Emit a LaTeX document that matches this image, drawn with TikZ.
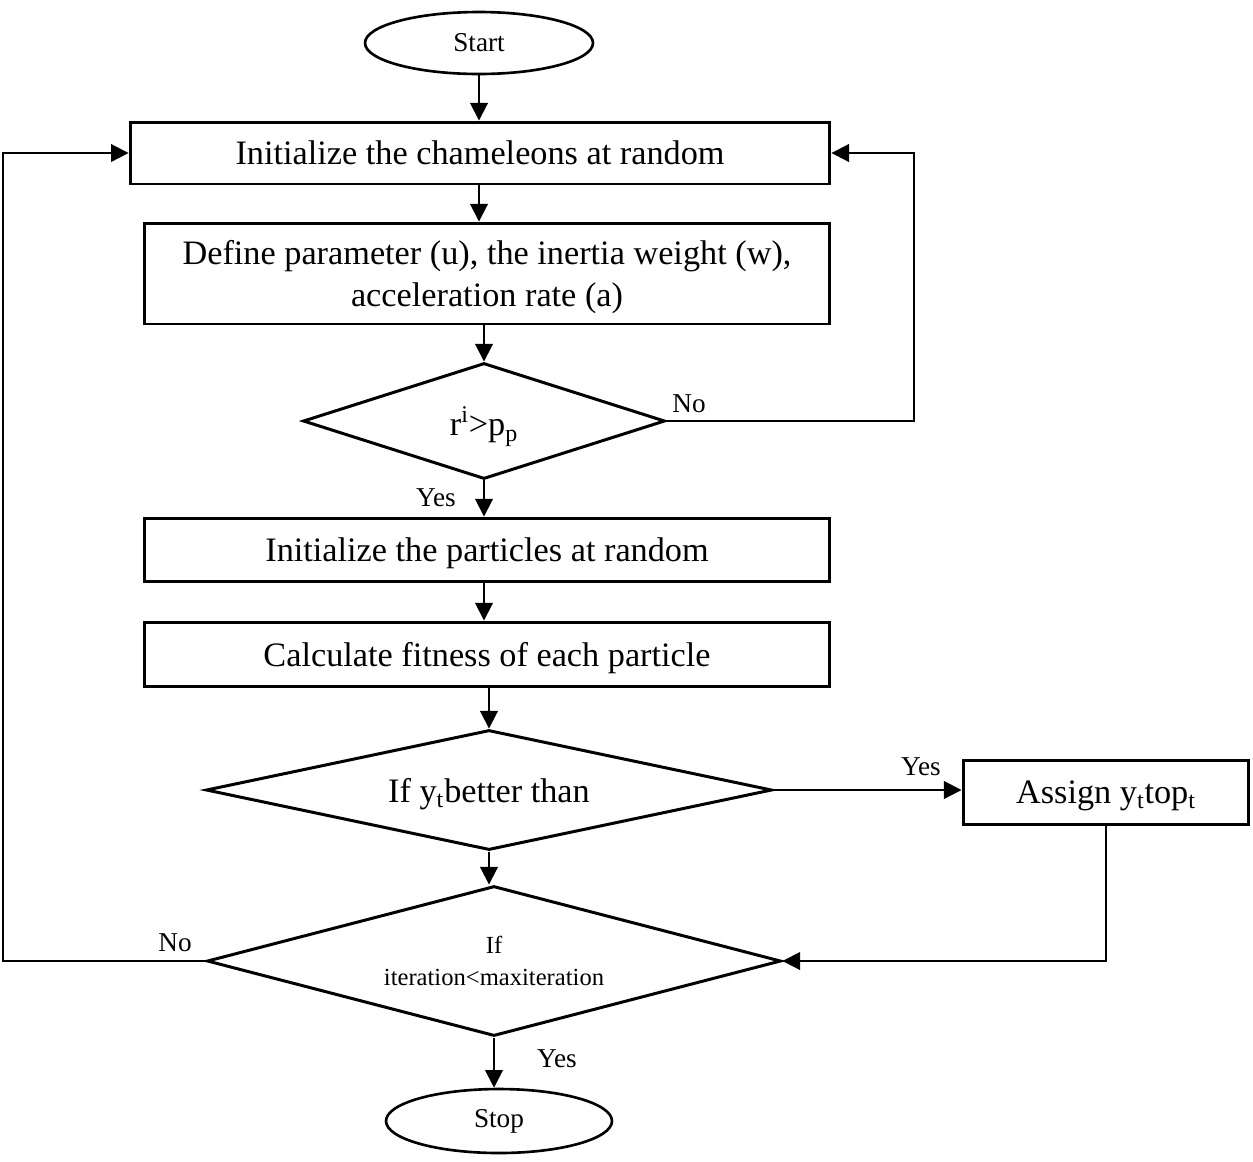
\documentclass[tikz,border=0pt]{standalone}
\usepackage{fontspec}
\setmainfont{Liberation Serif}
\usetikzlibrary{shapes.geometric,arrows.meta}
\begin{document}
\begin{tikzpicture}[x=0.02cm,y=-0.02cm,
  box/.style={draw,line width=1.7pt,rectangle,inner sep=0pt,text depth=0pt,font=\fontsize{19.5}{23.8}\selectfont,align=center},
  dia/.style={draw,line width=1.7pt,diamond,inner sep=0pt,text depth=0pt,font=\fontsize{19.5}{23.8}\selectfont,align=center},
  oval/.style={draw,line width=1.5pt,ellipse,inner sep=0pt,font=\fontsize{15.5}{18}\selectfont},
  conn/.style={line width=1.1pt,-{Triangle[length=10pt,width=10pt]}},
  lab/.style={font=\fontsize{15.5}{18}\selectfont,inner sep=0pt}]
\useasboundingbox (0,0) rectangle (1253,1161);

\node[oval,minimum width=4.56cm,minimum height=1.24cm] (start) at (479,43) {Start};
\node[box,minimum width=14cm,minimum height=1.24cm] (box1) at (480,153) {Initialize the chameleons at random};
\node[box,minimum width=13.72cm,minimum height=2.02cm] (box2) at (487,273.5) {Define parameter (u), the inertia weight (w),\\acceleration rate (a)};
\node[dia,aspect=3.1,minimum width=7.24cm,minimum height=2.32cm] (dia1) at (484,421) {r\textsuperscript{i}>p\textsubscript{p}};
\node[box,minimum width=13.72cm,minimum height=1.26cm] (box3) at (487,549.5) {Initialize the particles at random};
\node[box,minimum width=13.72cm,minimum height=1.28cm] (box4) at (487,654) {Calculate fitness of each particle};
\node[dia,aspect=4.7,minimum width=11.32cm,minimum height=2.4cm] (dia2) at (489,790) {If y\textsubscript{t}better than};
\node[box,minimum width=5.72cm,minimum height=1.28cm] (box5) at (1106,792) {Assign y\textsubscript{t}top\textsubscript{t}};
\node[dia,aspect=3.8,minimum width=11.48cm,minimum height=3cm,font=\fontsize{14}{18}\selectfont] (dia3) at (494,961) {If\\iteration<maxiteration};
\node[oval,minimum width=4.52cm,minimum height=1.28cm] (stop) at (499,1121) {Stop};

\coordinate (lft) at (3,0);
\coordinate (rgt) at (914,0);

\draw[conn] (start.south) -- (start.south |- box1.north);
\draw[conn] (box1.south -| start) -- (box2.north -| start);
\draw[conn] (box2.south -| dia1) -- (dia1.north);
\draw[conn] (dia1.south) -- (box3.north -| dia1);
\draw[conn] (box3.south -| dia1) -- (box4.north -| dia1);
\draw[conn] (box4.south -| dia2) -- (dia2.north);
\draw[conn] (dia2.south) -- (dia2.south |- dia3.north);
\draw[conn] (dia3.south) -- (dia3.south |- stop.north);
\draw[conn] (dia1.east) -- (dia1.east -| rgt) |- (box1.east);
\draw[conn] (dia2.east) -- (dia2.east -| box5.west);
\draw[conn] (box5.south) |- (dia3.east);
\draw[conn] (dia3.west) -- (dia3.west -| lft) |- (box1.west);

\node[lab] (l1) at (436,498) {Yes};
\node[lab] (l2) at (689,404) {No};
\node[lab] (l3) at (921,767) {Yes};
\node[lab] (l4) at (175,943) {No};
\node[lab] (l5) at (557,1059) {Yes};
\end{tikzpicture}
\end{document}
